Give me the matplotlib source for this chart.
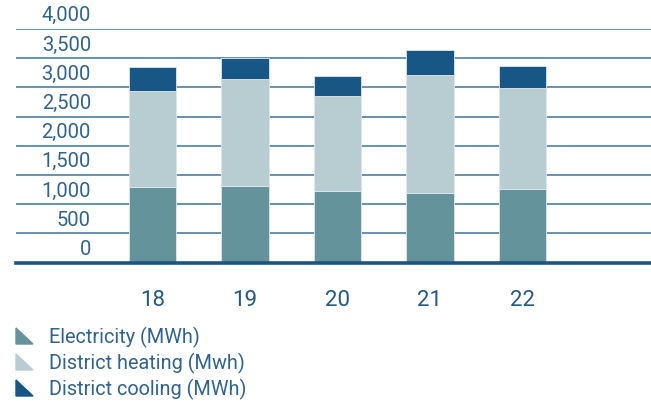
import matplotlib
matplotlib.use("Agg")
import matplotlib.pyplot as plt
from matplotlib.patches import Polygon
import numpy as np

# data (MWh)
years = ["18", "19", "20", "21", "22"]
electricity = [1290, 1310, 1225, 1195, 1260]
district_heating = [1645, 1830, 1625, 2015, 1735]
district_cooling = [410, 370, 345, 430, 370]
yticks = [0, 500, 1000, 1500, 2000, 2500, 3000, 3500, 4000]
legend_labels = ["Electricity (MWh)", "District heating (Mwh)", "District cooling (MWh)"]

c_elec = "#64939c"
c_heat = "#b7cdd2"
c_cool = "#185686"
c_text = "#2f6390"
c_grid = "#3f739c"

plt.rcParams["font.family"] = ["Roboto", "DejaVu Sans"]

fig = plt.figure(figsize=(6.51, 4.05), dpi=100)
# axes spans x 16..651 px, y 29..262.5 px (4000..0)
ax = fig.add_axes([16 / 651, 1 - 262.5 / 405, 635 / 651, 233.5 / 405])

x = np.arange(len(years))
elec = np.array(electricity)
heat = np.array(district_heating)
cool = np.array(district_cooling)
w = 0.51
ax.bar(x, elec, w, color=c_elec, edgecolor="#dde8ec", linewidth=0.6, zorder=3)
ax.bar(x, heat, w, bottom=elec, color=c_heat, edgecolor="#dde8ec", linewidth=0.6, zorder=3)
ax.bar(x, cool, w, bottom=elec + heat, color=c_cool, edgecolor="#dde8ec", linewidth=0.6, zorder=3)

ax.set_xlim(-1.476, 5.39)
ax.set_ylim(0, 4000)

for t in yticks[1:]:
    ax.axhline(t, color=c_grid, lw=1.1, zorder=1)
ax.axhline(0, color="#1c5585", lw=2.6, zorder=4, clip_on=False)

# y labels sit above their grid lines
for t in yticks:
    ax.text((91 - 16) / 635, t + 225, f"{t:,}", transform=ax.get_yaxis_transform(),
            ha="right", va="center", fontsize=14.5, color=c_text)

ax.set_xticks(x)
ax.set_xticklabels(years, fontsize=16, color="#235887")
ax.tick_params(axis="x", length=0, pad=20)
ax.set_yticks([])
for s in ax.spines.values():
    s.set_visible(False)

# legend with triangle markers
leg_cols = [c_elec, c_heat, c_cool]
for i, (lab, col) in enumerate(zip(legend_labels, leg_cols)):
    yb = 344 + i * 26
    tri = Polygon([(16 / 651, 1 - yb / 405), (33 / 651, 1 - yb / 405), (16 / 651, 1 - (yb - 16) / 405)],
                  closed=True, transform=fig.transFigure, color=col)
    fig.add_artist(tri)
    fig.text(49 / 651, 1 - (yb - 7) / 405, lab, ha="left", va="center", fontsize=14.3, color=c_text)

fig.savefig("out.png", dpi=100)
